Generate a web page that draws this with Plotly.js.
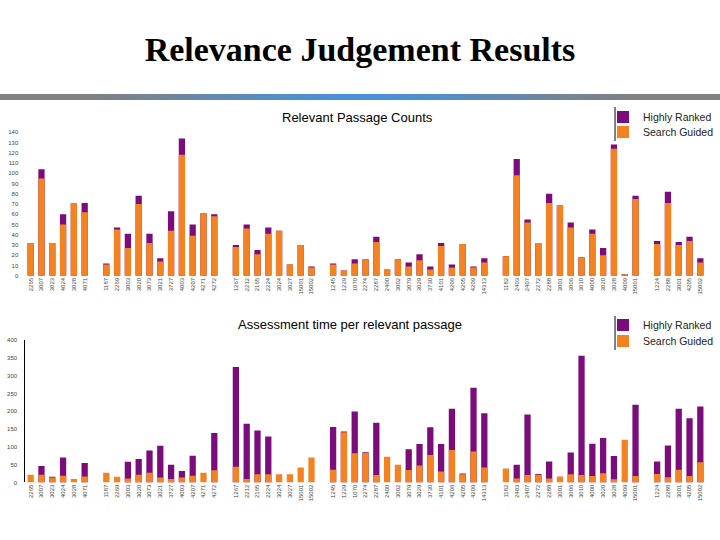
<!DOCTYPE html>
<html>
<head>
<meta charset="utf-8">
<script src="https://cdn.plot.ly/plotly-3.0.1.min.js"></script>
<style>
  html, body { margin: 0; padding: 0; background: #fff; }
  #chart { width: 720px; height: 540px; }
</style>
</head>
<body>
<div id="chart"></div>
<script>
// topic ids, "" marks the gap between groups
const topicLabels = [
  "2265","3007","3023","4024","3028","4071", "",
  "1187","2269","3003","3020","3073","3021","3727","4003","4207","4271","4272", "",
  "1267","2212","2165","2224","3024","3027","15001","15002", "",
  "1245","1229","1070","2274","2287","2400","3002","3079","3029","3730","4101","4206","4205","4209","14313", "",
  "1182","2403","2407","2272","2288","3001","3006","3010","4000","3020","3028","4009","15001", "",
  "1224","2288","3001","4205","15002"
];

// Relevant passage counts
const passHighly = [
  32,104,32,60,71,71, null,
  12,47,41,78,41,17,63,134,50,61,60, null,
  30,50,25,47,44,11,30,9, null,
  12,5,16,16,38,6,16,13,21,9,32,11,31,9,17, null,
  19,114,55,32,80,69,52,18,45,27,128,1,78, null,
  34,82,33,38,17
];
const passSearch = [
  32,95,32,50,71,62, null,
  11,45,27,70,32,14,44,118,39,61,58, null,
  28,46,21,41,44,11,30,8, null,
  11,5,12,16,33,6,16,9,15,6,29,8,31,8,13, null,
  19,98,52,32,71,69,47,18,41,20,124,1,75, null,
  31,71,30,34,13
];

// Assessment time per relevant passage
const timeHighly = [
  0,46,16,70,0,55, null,
  0,0,58,66,90,103,50,32,75,0,139, null,
  324,165,146,129,0,0,0,0, null,
  156,143,199,85,168,0,0,93,108,155,108,207,25,266,194, null,
  0,50,191,24,59,0,84,356,109,125,74,0,218, null,
  59,104,207,180,213
];
const timeSearch = [
  22,22,14,19,10,17, null,
  27,16,11,22,27,14,10,14,19,27,34, null,
  44,10,23,23,23,23,42,70, null,
  36,141,82,83,21,72,50,35,48,77,31,91,23,87,42, null,
  39,11,21,22,11,17,23,21,18,26,9,120,18, null,
  24,15,36,18,57
];

const purple = "#7a0c7c";
const orange = "#f58220";

// unique category keys so repeated topic ids get their own slot
const keys = topicLabels.map((t, i) => "c" + i);

// one legend per entry so the rows can sit closer together
const traces = [
  {x: keys, y: passHighly, name: "Highly Ranked", type: "bar", marker: {color: purple},
   xaxis: "x", yaxis: "y", legend: "legend"},
  {x: keys, y: passSearch, name: "Search Guided", type: "bar", marker: {color: orange},
   xaxis: "x", yaxis: "y", legend: "legend2"},
  {x: keys, y: timeHighly, name: "Highly Ranked", type: "bar", marker: {color: purple},
   xaxis: "x2", yaxis: "y2", legend: "legend3"},
  {x: keys, y: timeSearch, name: "Search Guided", type: "bar", marker: {color: orange},
   xaxis: "x2", yaxis: "y2", legend: "legend4"}
];

const tickFont = {family: "Arial, Liberation Sans, sans-serif", size: 6, color: "#444"};

const xBase = {
  type: "category",
  categoryorder: "array",
  categoryarray: keys,
  tickvals: keys,
  ticktext: topicLabels,
  range: [-0.5, keys.length - 0.5],
  domain: [0.0351, 0.9802],
  tickangle: -90,
  tickfont: tickFont,
  showgrid: false,
  zeroline: false,
  showline: false,
  ticks: "",
  fixedrange: true
};

// separator bar under the title: grey ends fading to blue in the middle
const shapes = [];
const nSeg = 48;
for (let i = 0; i < nSeg; i++) {
  const mid = (i + 0.5) / nSeg;
  const t = Math.max(0, 1 - Math.abs(mid - 0.5) / 0.42);
  const k = t * t * (3 - 2 * t);
  const r = Math.round(128 + (74 - 128) * k);
  const g = Math.round(128 + (144 - 128) * k);
  const b = Math.round(128 + (216 - 128) * k);
  shapes.push({type: "rect", xref: "paper", yref: "paper",
    x0: i / nSeg, x1: (i + 1) / nSeg + 0.001, y0: 0.8148, y1: 0.8259,
    fillcolor: `rgb(${r},${g},${b})`, line: {width: 0}, layer: "above"});
}
// legend rules
shapes.push({type: "line", xref: "paper", yref: "paper", x0: 0.8542, x1: 0.8542,
  y0: 0.7389, y1: 0.8019, line: {color: "#000", width: 1}});
shapes.push({type: "line", xref: "paper", yref: "paper", x0: 0.8542, x1: 0.8542,
  y0: 0.3519, y1: 0.4148, line: {color: "#000", width: 1}});

const legendBase = {
  x: 0.8375, xanchor: "left", yanchor: "middle",
  bgcolor: "rgba(0,0,0,0)",
  font: {family: "Arial, Liberation Sans, sans-serif", size: 10.5, color: "#222"},
  itemwidth: 30
};

const layout = {
  width: 720,
  height: 540,
  margin: {l: 0, r: 0, t: 0, b: 0},
  paper_bgcolor: "#fff",
  plot_bgcolor: "#fff",
  barmode: "overlay",
  bargap: 0.42,
  showlegend: true,
  title: {
    text: "<b>Relevance Judgement Results</b>",
    x: 0.5, xanchor: "center",
    y: 0.909, yanchor: "middle",
    font: {family: "Liberation Serif, Times New Roman, serif", size: 34, color: "#000"}
  },
  xaxis: Object.assign({}, xBase, {anchor: "y"}),
  xaxis2: Object.assign({}, xBase, {anchor: "y2"}),
  yaxis: {
    domain: [0.4894, 0.755], range: [0, 140], dtick: 10,
    showgrid: false, zeroline: false, showline: false, ticks: "",
    tickfont: tickFont, ticklabelstandoff: 6, anchor: "x", fixedrange: true
  },
  yaxis2: {
    domain: [0.1065, 0.3704], range: [0, 400], dtick: 50,
    showgrid: false, zeroline: false, showline: true, linecolor: "#000", linewidth: 1,
    ticks: "", tickfont: tickFont, ticklabelstandoff: 6, anchor: "x2", fixedrange: true
  },
  legend: Object.assign({}, legendBase, {y: 0.7833}),
  legend2: Object.assign({}, legendBase, {y: 0.7556}),
  legend3: Object.assign({}, legendBase, {y: 0.3981}),
  legend4: Object.assign({}, legendBase, {y: 0.3685}),
  annotations: [
    {text: "Relevant Passage Counts", xref: "paper", yref: "paper", x: 0.496, y: 0.7833,
     xanchor: "center", yanchor: "middle", showarrow: false,
     font: {family: "Arial, Liberation Sans, sans-serif", size: 13, color: "#000"}},
    {text: "Assessment time per relevant passage", xref: "paper", yref: "paper", x: 0.486, y: 0.4,
     xanchor: "center", yanchor: "middle", showarrow: false,
     font: {family: "Arial, Liberation Sans, sans-serif", size: 13, color: "#000"}}
  ],
  shapes: shapes
};

Plotly.newPlot("chart", traces, layout, {displayModeBar: false, responsive: false});
</script>
</body>
</html>
